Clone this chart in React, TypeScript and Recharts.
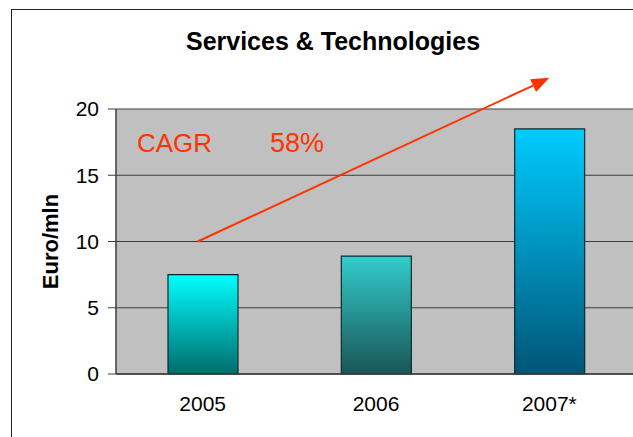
import { Bar, BarChart, CartesianGrid, Cell, Customized, ReferenceLine, XAxis, YAxis } from 'recharts';

// values
const years = ['2005', '2006', '2007*'];
const revenue = [7.5, 8.9, 18.5];
const yTicks = [0, 5, 10, 15, 20];
const boundaryTicks = [0, 1, 2, 3];
const cagrLabel = 'CAGR';
const cagrValue = '58%';
const arrowStart = { year: '2005', value: 10 };
const arrowEnd = { year: '2007*', value: 22.35 };

const GRADIENTS = [
  { id: 'g2005', top: '#00ffff', bottom: '#006c6c' },
  { id: 'g2006', top: '#33cccc', bottom: '#1a5656' },
  { id: 'g2007', top: '#00ccff', bottom: '#005577' },
];

const FONT = '"Liberation Sans", Arial, sans-serif';
const RED = '#ff3300';

const chartData = years.map((year, i) => ({ year, value: revenue[i] }));

function Arrow(props: any) {
  const { x1, y1, x2, y2 } = props;
  const len = Math.hypot(x2 - x1, y2 - y1);
  const ux = (x2 - x1) / len;
  const uy = (y2 - y1) / len;
  const head = 18;
  const half = 7;
  const bx = x2 - ux * head;
  const by = y2 - uy * head;
  const pts = [
    `${x2},${y2}`,
    `${bx - uy * half},${by + ux * half}`,
    `${bx + uy * half},${by - ux * half}`,
  ].join(' ');
  return (
    <g>
      <line x1={x1 - 5} y1={y1} x2={bx} y2={by} stroke={RED} strokeWidth={2} />
      <polygon points={pts} fill={RED} />
    </g>
  );
}

function Annotations() {
  return (
    <g fontFamily={FONT}>
      <text x={333} y={50} textAnchor="middle" fontSize={25} fontWeight="bold" fill="#000">
        Services &amp; Technologies
      </text>
      <text transform="translate(58,241.5) rotate(-90)" textAnchor="middle" fontSize={22} fontWeight="bold" fill="#000">
        Euro/mln
      </text>
      <text x={137} y={152} fontSize={26} fill={RED}>
        {cagrLabel}
      </text>
      <text x={270} y={152} fontSize={27} fill={RED}>
        {cagrValue}
      </text>
    </g>
  );
}

export default function App() {
  return (
    <div style={{ position: 'fixed', left: 0, top: 0, width: 633, height: 437, overflow: 'hidden', background: '#fff' }}>
      <div
        style={{
          position: 'absolute',
          left: 11,
          top: 9,
          width: 700,
          height: 500,
          border: '1.5px solid #222',
          boxSizing: 'border-box',
        }}
      />
      <div style={{ position: 'absolute', left: 0, top: 0 }}>
        <BarChart width={640} height={437} data={chartData} margin={{ top: 109, right: 4, left: 16, bottom: 33 }}>
          <defs>
            {GRADIENTS.map((g) => (
              <linearGradient key={g.id} id={g.id} x1="0" y1="0" x2="0" y2="1">
                <stop offset="0%" stopColor={g.top} />
                <stop offset="100%" stopColor={g.bottom} />
              </linearGradient>
            ))}
          </defs>
          <CartesianGrid vertical={false} fill="#c0c0c0" stroke="#3c3c3c" strokeWidth={1.2} />
          <XAxis
            dataKey="year"
            tickLine={false}
            axisLine={{ stroke: '#3c3c3c', strokeWidth: 1.5 }}
            tickSize={0}
            tickMargin={22}
            height={30}
            tick={{ fill: '#000', fontSize: 21, fontFamily: FONT }}
          />
          <XAxis
            xAxisId="bounds"
            type="number"
            domain={[0, 3]}
            ticks={boundaryTicks}
            allowDataOverflow
            axisLine={false}
            tickSize={7}
            tickLine={{ stroke: '#3c3c3c', strokeWidth: 1.5 }}
            tickFormatter={() => ''}
            height={0}
          />
          <YAxis
            domain={[0, 20]}
            ticks={yTicks}
            width={100}
            tickSize={8}
            tickMargin={9}
            axisLine={{ stroke: '#3c3c3c', strokeWidth: 1.5 }}
            tickLine={{ stroke: '#3c3c3c' }}
            tick={{ fill: '#000', fontSize: 21, fontFamily: FONT }}
          />
          <Bar dataKey="value" barSize={70} stroke="#0b2b2b" strokeWidth={1.2} isAnimationActive={false}>
            {chartData.map((d, i) => (
              <Cell key={d.year} fill={`url(#${GRADIENTS[i].id})`} />
            ))}
          </Bar>
          <ReferenceLine
            segment={[
              { x: arrowStart.year, y: arrowStart.value },
              { x: arrowEnd.year, y: arrowEnd.value },
            ]}
            ifOverflow="visible"
            shape={Arrow}
          />
          <Customized component={Annotations} />
        </BarChart>
      </div>
    </div>
  );
}
